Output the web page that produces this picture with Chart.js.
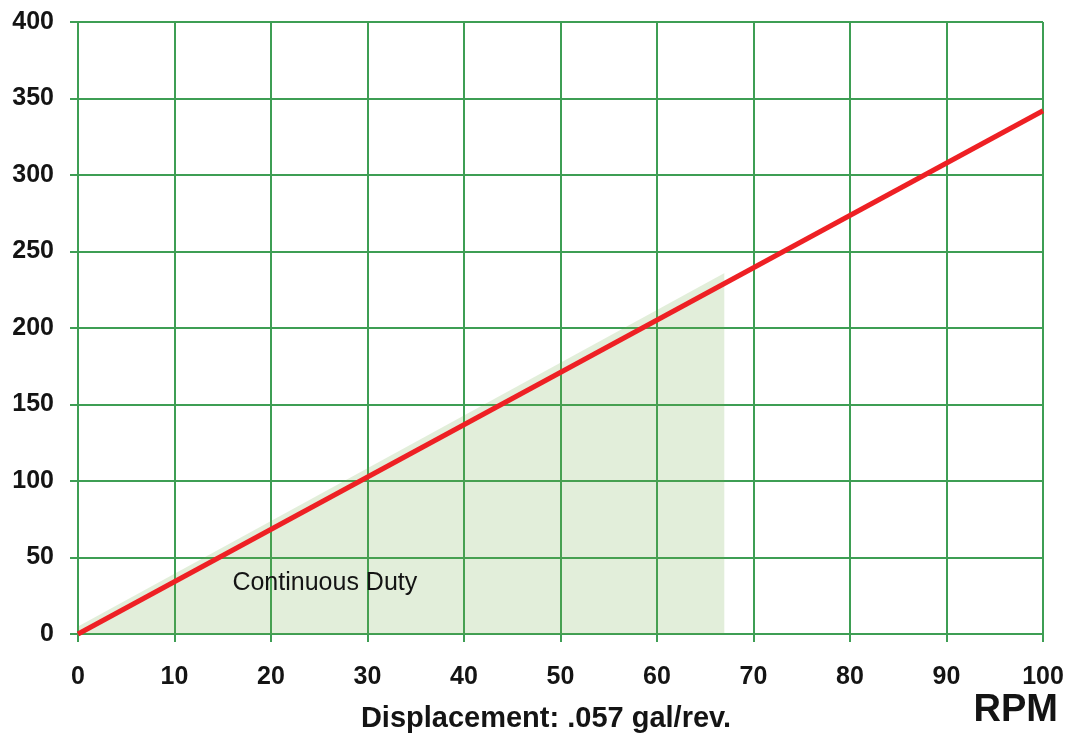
<!DOCTYPE html>
<html>
<head>
<meta charset="utf-8">
<script src="https://cdn.jsdelivr.net/npm/chart.js@4"></script>
<style>
  html, body { margin: 0; padding: 0; background: #fff; }
  #wrap { width: 1069px; height: 736px; }
</style>
</head>
<body>
<div id="wrap"><canvas id="chart"></canvas></div>
<script>
// RPM values and the flow line
const rpm = [0, 100];
const flow = [0, 342];

// shaded "Continuous Duty" region (RPM, upper edge)
const dutyRpm = [-1.4, 67, 67];
const dutyTop = [0, 236, 0];

const yTicks = [0, 50, 100, 150, 200, 250, 300, 350, 400];
const xTicks = [0, 10, 20, 30, 40, 50, 60, 70, 80, 90, 100];

const xLabel = "Displacement: .057 gal/rev.";
const unitLabel = "RPM";
const dutyLabel = "Continuous Duty";

const gridGreen = "rgb(62,158,84)";
const textCol = "#141414";

// texts that sit outside of the axes
const labelsPlugin = {
  id: "labels",
  afterDatasetsDraw(chart) {
    const { ctx, scales } = chart;
    ctx.save();
    ctx.fillStyle = textCol;
    ctx.textBaseline = "middle";
    ctx.font = "25px 'Liberation Sans', Arial, sans-serif";
    ctx.textAlign = "left";
    ctx.fillText(dutyLabel, scales.x.getPixelForValue(16), scales.y.getPixelForValue(33));
    ctx.restore();
  },
  afterDraw(chart) {
    const { ctx } = chart;
    ctx.save();
    ctx.fillStyle = textCol;
    ctx.textBaseline = "middle";
    ctx.font = "bold 29px 'Liberation Sans', Arial, sans-serif";
    ctx.textAlign = "center";
    ctx.fillText(xLabel, 546, 719);
    ctx.font = "bold 38px 'Liberation Sans', Arial, sans-serif";
    ctx.textAlign = "right";
    ctx.fillText(unitLabel, 1058, 711);
    ctx.restore();
  }
};

const ctx = document.getElementById("chart").getContext("2d");
const chart = new Chart(ctx, {
  type: "scatter",
  data: {
    datasets: [
      {
        label: "Flow",
        data: rpm.map((r, i) => ({ x: r, y: flow[i] })),
        showLine: true,
        borderColor: "rgb(238,32,36)",
        borderWidth: 5,
        pointRadius: 0,
        fill: false,
        clip: 3,
        order: 1
      },
      {
        label: "Continuous Duty",
        data: dutyRpm.map((r, i) => ({ x: r, y: dutyTop[i] })),
        showLine: true,
        borderWidth: 0,
        borderColor: "rgba(0,0,0,0)",
        backgroundColor: "rgba(110,170,70,0.2)",
        pointRadius: 0,
        fill: "origin",
        clip: false,
        order: 2
      }
    ]
  },
  options: {
    responsive: true,
    maintainAspectRatio: false,
    animation: false,
    devicePixelRatio: 1,
    layout: { padding: { left: 0, right: 26, top: 22, bottom: 0 } },
    plugins: {
      legend: { display: false },
      tooltip: { enabled: false }
    },
    scales: {
      x: {
        type: "linear",
        min: 0,
        max: 100,
        afterBuildTicks(scale) { scale.ticks = xTicks.map(v => ({ value: v })); },
        afterFit(scale) {
          scale.height = 102;
          scale.paddingLeft = 0;
          scale.paddingRight = 0;
        },
        grid: { color: gridGreen, lineWidth: 2, tickLength: 8 },
        border: { color: gridGreen, width: 2 },
        ticks: {
          color: textCol,
          padding: 20,
          maxRotation: 0,
          font: { family: "'Liberation Sans', Arial, sans-serif", size: 25, weight: "bold" }
        }
      },
      y: {
        type: "linear",
        min: 0,
        max: 400,
        afterBuildTicks(scale) { scale.ticks = yTicks.map(v => ({ value: v })); },
        afterFit(scale) {
          scale.width = 78;
          scale.paddingTop = 0;
          scale.paddingBottom = 0;
        },
        grid: { color: gridGreen, lineWidth: 2, tickLength: 8 },
        border: { color: gridGreen, width: 2 },
        ticks: {
          color: textCol,
          padding: 16,
          font: { family: "'Liberation Sans', Arial, sans-serif", size: 25, weight: "bold" }
        }
      }
    }
  },
  plugins: [labelsPlugin]
});
</script>
</body>
</html>
